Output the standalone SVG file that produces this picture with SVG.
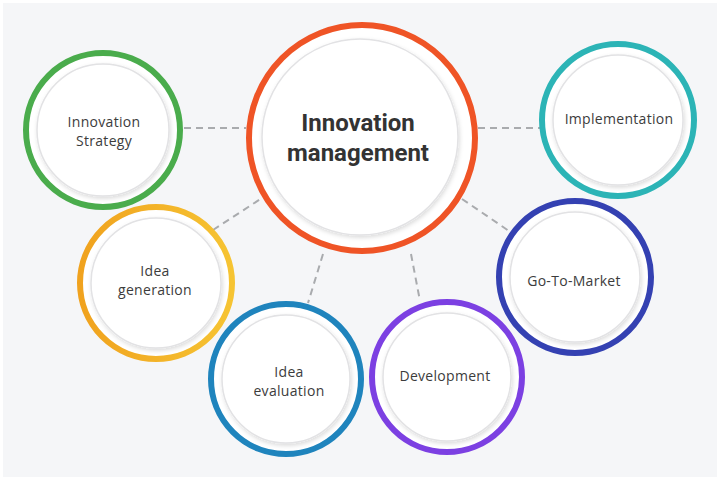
<svg xmlns="http://www.w3.org/2000/svg" width="720" height="480" viewBox="0 0 720 480">
<defs>
<filter id="sh" x="-20%" y="-20%" width="140%" height="140%">
<feDropShadow dx="1" dy="2" stdDeviation="2" flood-color="#000" flood-opacity="0.14"/>
</filter>
<linearGradient id="gy" x1="0" y1="0" x2="1" y2="0">
<stop offset="0" stop-color="#f0a21e"/>
<stop offset="1" stop-color="#f6c433"/>
</linearGradient>
</defs>
<style>
.ring{fill:#ffffff;stroke-width:6}
.inner{fill:#ffffff;stroke:#e2e2e4;stroke-width:1.5;filter:url(#sh)}
.lbl{font-family:"Open Sans","Noto Sans",sans-serif;font-size:14px;font-weight:500;fill:#3c3c3c;text-anchor:middle;letter-spacing:0.3px}
.title{font-family:Roboto,"Liberation Sans",sans-serif;font-size:24px;font-weight:700;fill:#333;text-anchor:middle}
.con{stroke:#a9abae;stroke-width:2;stroke-dasharray:7 5;fill:none}
</style>
<rect x="0" y="0" width="720" height="480" fill="#ffffff"/>
<rect x="3" y="3" width="714" height="474" fill="#f5f6f8"/>
<g id="connectors">
<line class="con" x1="184" y1="128" x2="246" y2="128"/>
<line class="con" x1="478" y1="128" x2="541" y2="128"/>
<line class="con" x1="213" y1="230" x2="262" y2="198"/>
<line class="con" x1="462" y1="199" x2="509" y2="231"/>
<line class="con" x1="323" y1="254" x2="308" y2="303"/>
<line class="con" x1="411" y1="254" x2="420" y2="301"/>
</g>
<g id="innovation-strategy">
<circle class="ring" cx="103" cy="130" r="77" stroke="#4aac4c"/>
<circle class="inner" cx="103" cy="130" r="66"/>
<text class="lbl" x="104" y="127">Innovation</text>
<text class="lbl" x="104" y="146">Strategy</text>
</g>
<g id="implementation">
<circle class="ring" cx="618" cy="120" r="76" stroke="#2cb4b6"/>
<circle class="inner" cx="618" cy="120" r="65"/>
<text class="lbl" x="619" y="124">Implementation</text>
</g>
<g id="idea-generation">
<circle class="ring" cx="156" cy="283" r="76" stroke="url(#gy)"/>
<circle class="inner" cx="156" cy="283" r="65"/>
<text class="lbl" x="155" y="276">Idea</text>
<text class="lbl" x="155" y="295">generation</text>
</g>
<g id="go-to-market">
<circle class="ring" cx="575" cy="277" r="76" stroke="#3441b2"/>
<circle class="inner" cx="575" cy="277" r="65"/>
<text class="lbl" x="574" y="286">Go-To-Market</text>
</g>
<g id="idea-evaluation">
<circle class="ring" cx="286" cy="379" r="75" stroke="#1f84bd"/>
<circle class="inner" cx="286" cy="379" r="64"/>
<text class="lbl" x="289" y="377">Idea</text>
<text class="lbl" x="289" y="396">evaluation</text>
</g>
<g id="development">
<circle class="ring" cx="447" cy="377" r="75" stroke="#7c40e2"/>
<circle class="inner" cx="447" cy="377" r="64"/>
<text class="lbl" x="445" y="381">Development</text>
</g>
<g id="innovation-management">
<circle class="ring" cx="362" cy="138" r="113" stroke="#ef5426" stroke-width="7"/>
<circle class="inner" cx="360" cy="137" r="98"/>
<text class="title" x="358" y="131">Innovation</text>
<text class="title" x="358" y="161">management</text>
</g>
</svg>
